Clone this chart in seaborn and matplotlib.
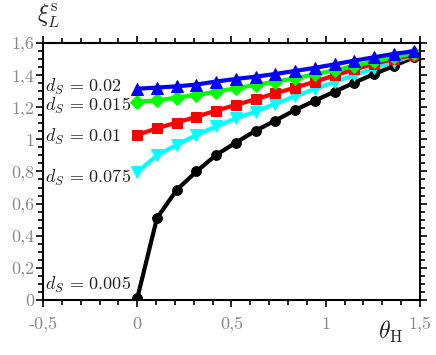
import matplotlib
matplotlib.use("Agg")
import matplotlib.pyplot as plt
import seaborn as sns
import numpy as np
import pandas as pd
from matplotlib.ticker import MultipleLocator, FixedLocator, FixedFormatter

# data
theta = np.arange(15) * np.pi / 30
xi_002 = [1.315, 1.322, 1.330, 1.341, 1.360, 1.376, 1.390, 1.407, 1.426, 1.445,
          1.467, 1.490, 1.511, 1.532, 1.548]
xi_0015 = [1.235, 1.242, 1.260, 1.277, 1.297, 1.318, 1.339, 1.359, 1.380, 1.405,
           1.430, 1.458, 1.485, 1.510, 1.535]
xi_001 = [1.027, 1.069, 1.104, 1.141, 1.179, 1.214, 1.250, 1.287, 1.322, 1.359,
          1.398, 1.435, 1.470, 1.500, 1.525]
xi_0075 = [0.795, 0.900, 0.965, 1.027, 1.080, 1.131, 1.173, 1.222, 1.268, 1.315,
           1.357, 1.400, 1.442, 1.482, 1.522]
xi_0005 = [0.01, 0.51, 0.685, 0.80, 0.903, 0.980, 1.054, 1.117, 1.183, 1.241,
           1.297, 1.353, 1.407, 1.457, 1.51]

series = [
    (xi_0005, "black", "o", 7, r"$d_S\,=\,0.005$", 0.093),
    (xi_0075, "#00ffff", "v", 9, r"$d_S\,=\,0.075$", 0.76),
    (xi_001, "#ff0000", "s", 7.5, r"$d_S\,=\,0.01$", 1.015),
    (xi_0015, "#00ff00", "D", 7, r"$d_S\,=\,0.015$", 1.208),
    (xi_002, "#0000ff", "^", 9, r"$d_S\,=\,0.02$", 1.326),
]

sns.set_style("ticks")
plt.rcParams["mathtext.fontset"] = "cm"

fig = plt.figure(figsize=(4.36, 3.55), dpi=100)
ax = fig.add_axes([0.0986, 0.155, 0.8647, 0.724])

for vals, col, mk, ms, lab, ly in series:
    df = pd.DataFrame({"theta": theta, "xi": vals})
    sns.lineplot(data=df, x="theta", y="xi", color=col, marker=mk, markersize=ms,
                 markeredgecolor=col, linewidth=3, ax=ax)
    ax.text(-0.49, ly, lab, fontsize=13, color="#222222", va="center", ha="left")

ax.set_xlim(-0.5, 1.5)
ax.set_ylim(0, 1.6)
ax.set_xlabel("")
ax.set_ylabel("")

xt = [-0.5, 0, 0.5, 1, 1.5]
ax.xaxis.set_major_locator(FixedLocator(xt))
ax.xaxis.set_major_formatter(FixedFormatter(["-0,5", "0", "0,5", "1", "1,5"]))
ax.xaxis.set_minor_locator(MultipleLocator(0.1))
yt = [0, 0.2, 0.4, 0.6, 0.8, 1.0, 1.2, 1.4, 1.6]
ax.yaxis.set_major_locator(FixedLocator(yt))
ax.yaxis.set_major_formatter(FixedFormatter(["0", "0,2", "0,4", "0,6", "0,8", "1", "1,2", "1,4", "1,6"]))
ax.yaxis.set_minor_locator(MultipleLocator(0.05))

ax.tick_params(which="both", direction="out", top=True, right=True,
               labeltop=False, labelright=False, color="black", width=1.2)
ax.tick_params(which="major", length=5, labelsize=13, labelcolor="#888888")
ax.tick_params(axis="x", which="major", pad=7)
ax.tick_params(axis="y", which="major", pad=1)
ax.tick_params(which="minor", length=3.5)
for lbl in ax.get_xticklabels() + ax.get_yticklabels():
    lbl.set_family("cmr10")
for sp in ax.spines.values():
    sp.set_visible(True)
    sp.set_linewidth(1.5)
    sp.set_color("black")

fig.text(0.895, 0.065, r"$\theta_{\mathrm{H}}$", fontsize=17, ha="center", va="center")
fig.text(0.112, 0.955, r"$\xi_L^{\mathrm{s}}$", fontsize=17, ha="center", va="center")

fig.savefig("out.png", dpi=100)
